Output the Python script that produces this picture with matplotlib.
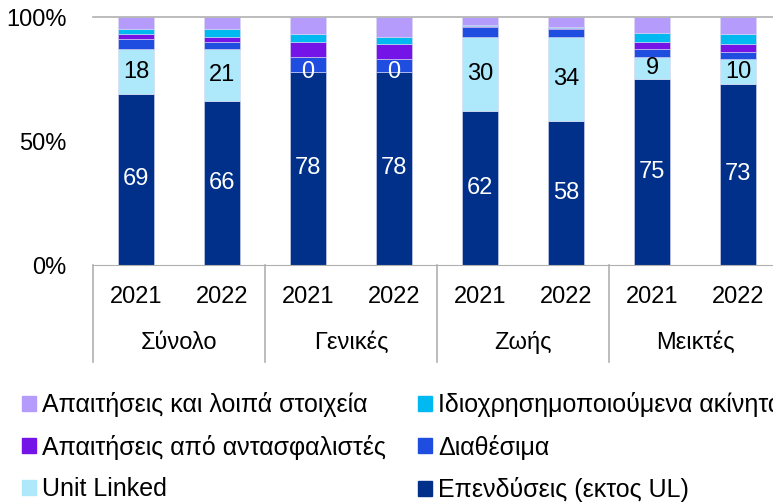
import numpy as np
import matplotlib
matplotlib.use("Agg")
import matplotlib.pyplot as plt
from matplotlib.patches import Patch

plt.rcParams['font.family'] = ['Liberation Sans', 'DejaVu Sans']

# Datos (% del total)
grupos = ['Σύνολο', 'Γενικές', 'Ζωής', 'Μεικτές']
anios = ['2021', '2022'] * 4

series = ['Επενδύσεις (εκτος UL)', 'Unit Linked', 'Διαθέσιμα',
          'Απαιτήσεις από αντασφαλιστές', 'Ιδιοχρησημοποιούμενα ακίνητα',
          'Απαιτήσεις και λοιπά στοιχεία']
epend = [69, 66, 78, 78, 62, 58, 75, 73]
unit_linked = [18, 21, 0, 0, 30, 34, 9, 10]
diathesima = [4, 3, 6, 5, 4, 3, 3, 3]
antasf = [2, 2, 6, 6, 0.3, 0.5, 3, 3]
akinita = [2, 3, 3, 3, 0.3, 0.5, 3.5, 4]
apaitiseis = [5, 5, 7, 8, 3.4, 4, 6.5, 7]

colores = ['#00308A', '#ADE9FB', '#1F4DE0', '#7414E6', '#00B9F1', '#B59CFC']

datos = [epend, unit_linked, diathesima, antasf, akinita, apaitiseis]

W, H = 773, 504
fig = plt.figure(figsize=(W / 100, H / 100), dpi=100)
x0, ytop, y0 = 93, 17, 265
paso = 86
ax = fig.add_axes([x0 / W, 1 - y0 / H, 8 * paso / W, (y0 - ytop) / H])

x = np.arange(8)
base = np.zeros(8)
for vals, col in zip(datos, colores):
    ax.bar(x, vals, width=0.41, bottom=base, color=col,
           edgecolor='#d8d8f0', linewidth=0.4)
    base = base + np.array(vals)

# etiquetas de datos
fs = 17
for i in range(8):
    ax.text(x[i], epend[i] / 2, str(epend[i]), ha='center', va='center',
            color='white', fontsize=fs)
    c = 'white' if unit_linked[i] == 0 else 'black'
    ax.text(x[i], epend[i] + unit_linked[i] / 2, str(unit_linked[i]),
            ha='center', va='center', color=c, fontsize=fs)

ax.set_xlim(-0.5, 7.5)
ax.set_ylim(0, 100)
ax.set_yticks([0, 50, 100])
ax.set_yticklabels(['0%', '50%', '100%'], fontsize=fs)
ax.tick_params(axis='y', length=0, pad=19)
ax.set_xticks([])
for s in ['top', 'right', 'left']:
    ax.spines[s].set_visible(False)
ax.spines['bottom'].set_color('#b0b0b0')
ax.axhline(100, color='#b0b0b0', lw=1.2, clip_on=False)

# etiquetas de categorías
tr = ax.get_xaxis_transform()
ya = -(297 - y0) / (y0 - ytop)
yg = -(343 - y0) / (y0 - ytop)
ysep = -(362 - y0) / (y0 - ytop)
for i in range(8):
    ax.text(x[i], ya, anios[i], transform=tr, ha='center', va='center',
            fontsize=fs)
for g, nombre in enumerate(grupos):
    ax.text(2 * g + 0.5, yg, nombre, transform=tr, ha='center', va='center',
            fontsize=fs)
for xs in [-0.5, 1.5, 3.5, 5.5, 7.5]:
    ax.plot([xs, xs], [0, ysep], transform=tr, color='#b0b0b0', lw=1.2,
            clip_on=False)

# leyenda (orden por filas)
orden = [5, 3, 1, 4, 2, 0]
handles = [Patch(color=colores[k]) for k in orden]
labels = [series[k] for k in orden]
fig.legend(handles, labels, ncol=2, loc='upper left',
           bbox_to_anchor=(22 / W, 1 - 392 / H), frameon=False,
           fontsize=18, handlelength=0.55, handleheight=0.55,
           handletextpad=0.25, columnspacing=1.3, labelspacing=0.7,
           borderpad=0, borderaxespad=0)

fig.savefig('out.png', dpi=100)
